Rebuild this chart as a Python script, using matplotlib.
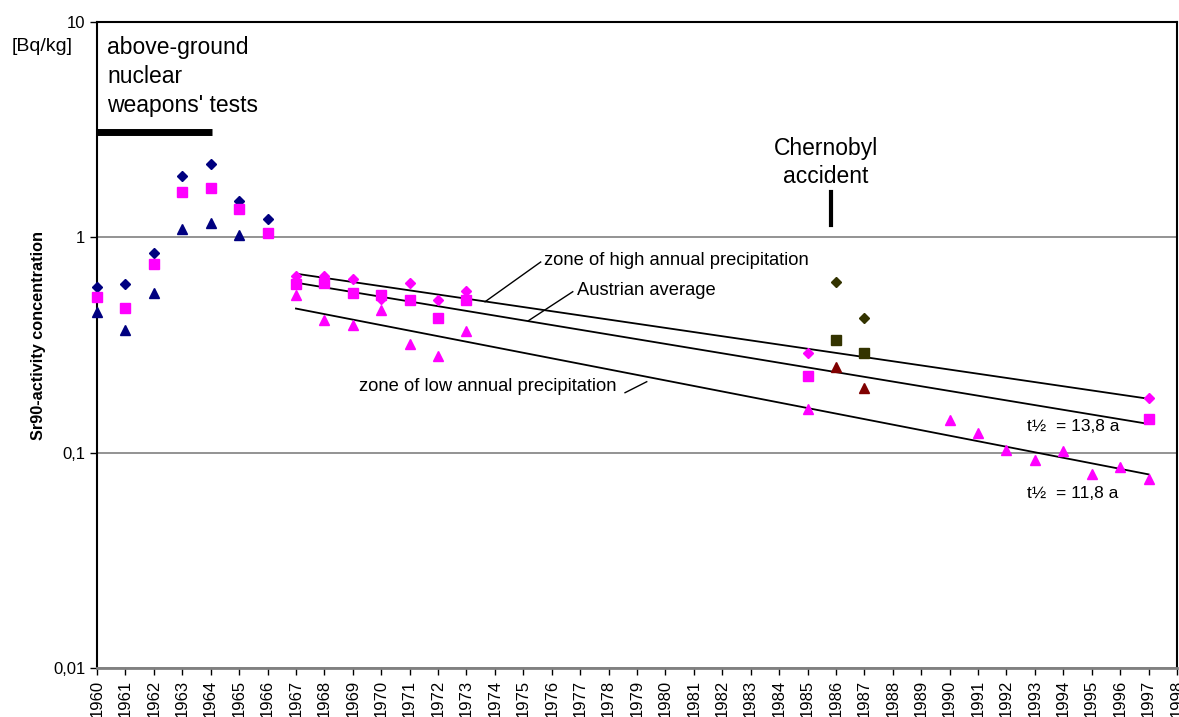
import numpy as np
import matplotlib.pyplot as plt

plt.rcParams['font.family'] = ['Liberation Sans', 'DejaVu Sans']

# 1960-1966 series
years_early = [1960, 1961, 1962, 1963, 1964, 1965, 1966]
high_early = [0.59, 0.605, 0.85, 1.92, 2.18, 1.47, 1.22]
avg_early = [0.53, 0.47, 0.75, 1.62, 1.69, 1.36, 1.05]
years_early_low = [1960, 1961, 1962, 1963, 1964, 1965]
low_early = [0.45, 0.37, 0.55, 1.09, 1.17, 1.03]

# 1967 onwards
years_high = [1967, 1968, 1969, 1970, 1971, 1972, 1973, 1985, 1997]
high_late = [0.66, 0.66, 0.643, 0.52, 0.616, 0.51, 0.565, 0.289, 0.180]
years_avg = [1967, 1968, 1969, 1970, 1971, 1972, 1973, 1985, 1997]
avg_late = [0.61, 0.616, 0.55, 0.54, 0.51, 0.42, 0.51, 0.226, 0.144]
years_low = [1967, 1968, 1969, 1970, 1971, 1972, 1973, 1985,
             1990, 1991, 1992, 1993, 1994, 1995, 1996, 1997]
low_late = [0.54, 0.413, 0.39, 0.46, 0.32, 0.28, 0.367, 0.16,
            0.142, 0.124, 0.103, 0.0928, 0.1018, 0.0799, 0.0862, 0.0758]

# Chernobyl years
years_cher = [1986, 1987]
high_cher = [0.62, 0.42]
avg_cher = [0.333, 0.29]
low_cher = [0.251, 0.20]

# regression lines (endpoints)
fit_years = [1967, 1997]
fit_high = [0.678, 0.178]
fit_avg = [0.616, 0.136]
fit_low = [0.467, 0.0793]

xticks = np.arange(1960, 1999, 1)

fig = plt.figure(figsize=(11.79, 7.17), dpi=100)
ax = fig.add_axes([0.0823, 0.0683, 0.9160, 0.9010])

navy = '#000080'
mag = '#FF00FF'
olive = '#333300'
dred = '#800000'

def pts(x, y, m, c, ms):
    ax.plot(x, y, linestyle='none', marker=m, color=c, markersize=ms,
            clip_on=False, zorder=3)

pts(years_early, high_early, 'D', navy, 5.5)
pts(years_early, avg_early, 's', mag, 7.5)
pts(years_early_low, low_early, '^', navy, 7.5)

pts(years_high, high_late, 'D', mag, 5.5)
pts(years_avg, avg_late, 's', mag, 7.5)
pts(years_low, low_late, '^', mag, 7.5)

pts(years_cher, high_cher, 'D', olive, 5.5)
pts(years_cher, avg_cher, 's', olive, 7.5)
pts(years_cher, low_cher, '^', dred, 7.5)

for fy in (fit_high, fit_avg, fit_low):
    ax.plot(fit_years, fy, color='black', linewidth=1.3)

ax.set_yscale('log')
ax.set_ylim(0.01, 10)
ax.set_xlim(1960, 1998)
ax.set_yticks([0.01, 0.1, 1, 10])
ax.set_yticklabels(['0,01', '0,1', '1', '10'], fontsize=12)
ax.minorticks_off()
ax.set_xticks(xticks)
ax.set_xticklabels(xticks, rotation=90, fontsize=12)
ax.tick_params(direction='out', length=5, width=1)

ax.grid(axis='y', which='major', color='#808080', linewidth=1.2)
for sp in ax.spines.values():
    sp.set_linewidth(1.5)
ax.spines['bottom'].set_color('#808080')
ax.spines['bottom'].set_linewidth(2)

ax.set_ylabel('Sr90-activity concentration', fontsize=11.7, fontweight='bold')
ax.yaxis.set_label_coords(-0.047, 0.514)
fig.text(0.0102, 0.9349, '[Bq/kg]', fontsize=14, va='center')

tr = ax.transAxes

# weapons tests
ax.text(0.0093, 0.9613, 'above-ground', fontsize=16.5, va='center', transform=tr)
ax.text(0.0093, 0.9149, 'nuclear', fontsize=16.5, va='center', transform=tr)
ax.text(0.0093, 0.8715, "weapons' tests", fontsize=16.5, va='center', transform=tr)
ax.plot([0.0, 0.1065], [0.8302, 0.8302], color='black', linewidth=5,
        solid_capstyle='butt', transform=tr, clip_on=False)

# Chernobyl
ax.text(0.675, 0.8045, 'Chernobyl', fontsize=16.5, ha='center', va='center', transform=tr)
ax.text(0.675, 0.7605, 'accident', fontsize=16.5, ha='center', va='center', transform=tr)
ax.plot([0.6794, 0.6794], [0.6858, 0.7373], color='black', linewidth=3, transform=tr)

# line labels with leader lines
ax.text(0.4139, 0.6316, 'zone of high annual precipitation', fontsize=13.2,
        va='center', ha='left', transform=tr)
ax.plot([0.3593, 0.4108], [0.5670, 0.6285], color='black', linewidth=1, transform=tr)

ax.text(0.4447, 0.5851, 'Austrian average', fontsize=13.2,
        va='center', ha='left', transform=tr)
ax.plot([0.3994, 0.4405], [0.5376, 0.5825], color='black', linewidth=1, transform=tr)

ax.text(0.4812, 0.4354, 'zone of low annual precipitation', fontsize=13.2,
        va='center', ha='right', transform=tr)
ax.plot([0.4889, 0.5090], [0.4262, 0.4432], color='black', linewidth=1, transform=tr)

ax.text(0.8608, 0.3735, 't\u00bd  = 13,8 a', fontsize=12.5, va='center', ha='left', transform=tr)
ax.text(0.8608, 0.2704, 't\u00bd  = 11,8 a', fontsize=12.5, va='center', ha='left', transform=tr)

plt.savefig('out.png', dpi=100)
